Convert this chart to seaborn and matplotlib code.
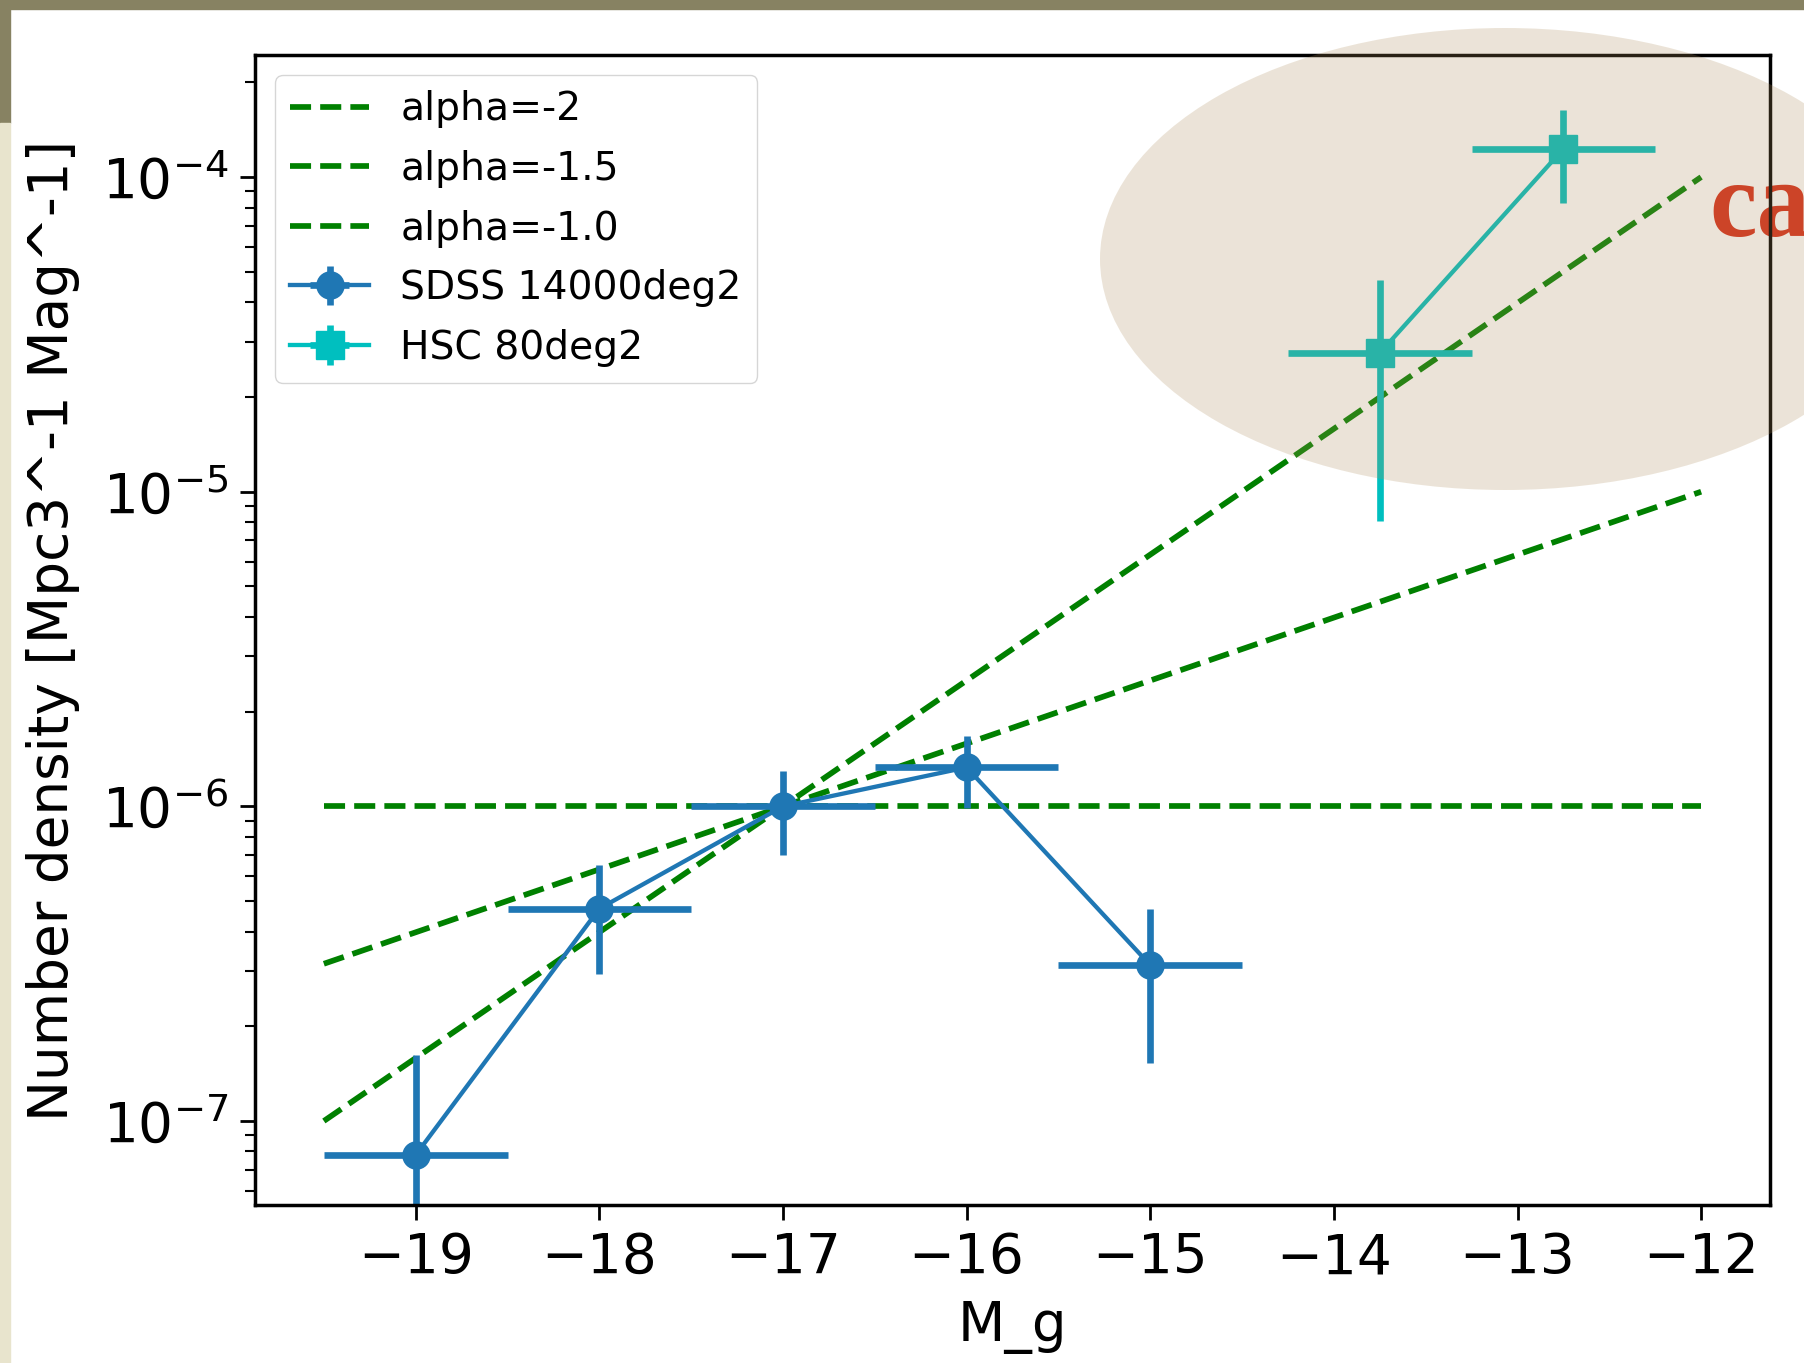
import matplotlib
matplotlib.use("Agg")
import matplotlib.pyplot as plt
from matplotlib.patches import Rectangle, Ellipse
import seaborn as sns
import pandas as pd

# ---- data ----
model_mag = [-19.5, -12.0]
alpha_m2 = [1.0e-7, 1.0e-4]
alpha_m15 = [3.16e-7, 1.0e-5]
alpha_m10 = [1.0e-6, 1.0e-6]
model_labels = ["alpha=-2", "alpha=-1.5", "alpha=-1.0"]

sdss_mag = [-19, -18, -17, -16, -15]
sdss_mag_err = [0.5, 0.5, 0.5, 0.5, 0.5]
sdss_phi = [7.8e-8, 4.73e-7, 1.0e-6, 1.33e-6, 3.13e-7]
sdss_phi_err = [8.4e-8, 1.8e-7, 3.0e-7, 3.4e-7, 1.6e-7]

hsc_mag = [-13.75, -12.75]
hsc_mag_err = [0.5, 0.5]
hsc_phi = [2.76e-5, 1.23e-4]
hsc_phi_err = [1.95e-5, 4.0e-5]

xlabel = "M_g"
ylabel = "Number density [Mpc3^-1 Mag^-1]"

W, H = 1804, 1363
fig = plt.figure(figsize=(W / 100, H / 100), dpi=100)
fig.patch.set_facecolor("white")

# slide background strips
fig.add_artist(Rectangle((0, 1 - 9 / H), 1, 9 / H, transform=fig.transFigure,
                         color="#878262", zorder=-3))
fig.add_artist(Rectangle((0, 1 - 123 / H), 10 / W, 123 / H, transform=fig.transFigure,
                         color="#878262", zorder=-3))
fig.add_artist(Rectangle((0, 0), 10 / W, 1 - 123 / H, transform=fig.transFigure,
                         color="#e8e4cd", zorder=-3))

# red slide text behind the chart (cut by the right edge, as in the slide)
fig.text(1709 / W, 1 - 236 / H, "ca", family="Liberation Serif", fontweight="bold",
         fontsize=77, color="#d62d18", ha="left", va="baseline", zorder=-1)

ax = fig.add_axes([255 / W, 1 - 1205 / H, (1770 - 255) / W, (1205 - 55) / H])
ax.set_facecolor("none")
ax.set_yscale("log")

for yv, lab in zip([alpha_m2, alpha_m15, alpha_m10], model_labels):
    df = pd.DataFrame({"M": model_mag, "phi": yv})
    sns.lineplot(data=df, x="M", y="phi", ax=ax, color="g", linestyle="--",
                 label=lab, legend=False)
for ln in ax.get_lines():
    ln.set_linewidth(4.1)
    ln.set_linestyle("--")

ax.errorbar(sdss_mag, sdss_phi, xerr=sdss_mag_err, yerr=sdss_phi_err, fmt="-o",
            color="#1f77b4", lw=3.1, elinewidth=4.8, ms=19.5, capsize=0,
            label="SDSS 14000deg2")
ax.errorbar(hsc_mag, hsc_phi, xerr=hsc_mag_err, yerr=hsc_phi_err, fmt="-s",
            color="c", lw=3.1, elinewidth=4.8, ms=19.5, capsize=0,
            label="HSC 80deg2")

ax.set_xlim(-19.875, -11.625)
ax.set_ylim(10 ** -7.267, 10 ** -3.612)
ax.set_xticks([-19, -18, -17, -16, -15, -14, -13, -12])

ax.tick_params(which="major", length=10.8, width=2.0, labelsize=39.5, pad=8)
ax.tick_params(which="minor", length=7.2, width=1.5)
for s in ax.spines.values():
    s.set_linewidth(2.5)

ax.set_xlabel(xlabel, fontsize=39.5, labelpad=11)
ax.set_ylabel(ylabel, fontsize=39.5, labelpad=16)
ax.legend(loc="upper left", fontsize=28.3, labelspacing=0.55)

# beige highlight ellipse over the chart
fig.add_artist(Ellipse((1505 / W, 1 - 259 / H), 2 * 405 / W, 2 * 231 / H,
                       transform=fig.transFigure, facecolor=(175 / 255, 142 / 255, 92 / 255),
                       edgecolor="none", alpha=0.24, zorder=10))

fig.savefig("out.png", dpi=100)
